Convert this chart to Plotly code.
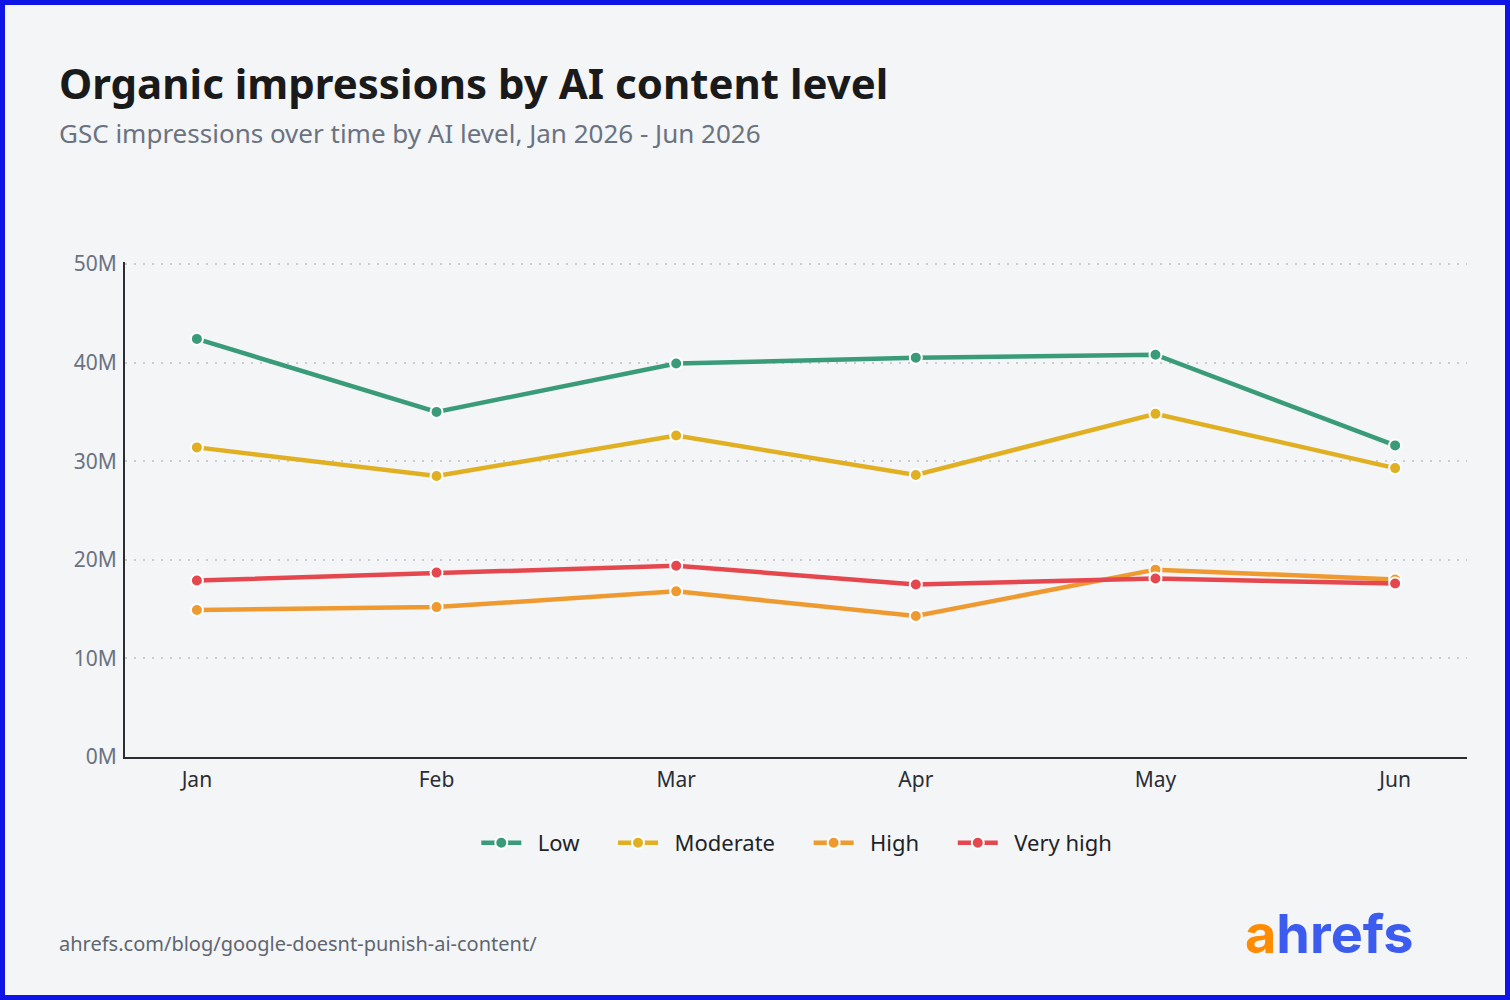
import plotly.graph_objects as go

months = ["Jan", "Feb", "Mar", "Apr", "May", "Jun"]
low = [42.4, 35.0, 39.9, 40.5, 40.8, 31.6]
moderate = [31.4, 28.5, 32.6, 28.6, 34.8, 29.3]
high = [14.9, 15.2, 16.8, 14.3, 19.0, 18.0]
very_high = [17.9, 18.7, 19.4, 17.5, 18.1, 17.6]
y_ticks = [0, 10, 20, 30, 40, 50]
y_tick_labels = ["0M", "10M", "20M", "30M", "40M", "50M"]

series = [
    ("Low", low, "#3a9b78"),
    ("Moderate", moderate, "#e0af22"),
    ("High", high, "#ee9a30"),
    ("Very high", very_high, "#e5474f"),
]

W, H = 1510, 1000
L, R, T, B = 125, 43, 262, 243
pw, ph = W - L - R, H - T - B

def px(x):
    return (x - L) / pw

def py(y):
    return (H - B - y) / ph

lead = "\u00a0" * 2
pad = "\u00a0" * 5

fig = go.Figure()
for name, vals, col in series:
    fig.add_trace(go.Scatter(
        x=months, y=vals, name=lead + name + pad, mode="lines+markers",
        line=dict(color=col, width=4.5),
        marker=dict(size=12, color=col, line=dict(color="white", width=2)),
    ))

bg = "#f3f5f7"
font_main = "Noto Sans, sans-serif"

fig.update_layout(
    width=W, height=H,
    margin=dict(l=L, r=R, t=T, b=B),
    paper_bgcolor=bg, plot_bgcolor=bg,
    font=dict(family=font_main, color="#6b7280"),
    showlegend=True,
    legend=dict(orientation="h", x=px(483) - 0.005, xanchor="left", y=py(843), yanchor="middle",
                font=dict(size=22, color="#1f2328"), itemwidth=40,
                bgcolor="rgba(0,0,0,0)", tracegroupgap=0),
    xaxis=dict(range=[-0.3, 5.3], showgrid=False, showline=True, linecolor="#2b2d33",
               linewidth=2, ticks="outside", ticklen=3, tickcolor="rgba(0,0,0,0)",
               tickfont=dict(size=21, color="#2b2d33"),
               fixedrange=True, zeroline=False),
    yaxis=dict(range=[0, 50.2], tickvals=y_ticks, ticktext=y_tick_labels, showgrid=True,
               gridcolor="#c9cdd2", griddash="2px,7px", gridwidth=2,
               showline=True, linecolor="#2b2d33", linewidth=2, ticks="outside",
               ticklen=2, tickcolor="rgba(0,0,0,0)",
               tickfont=dict(size=21, color="#6b7280"), zeroline=False),
    annotations=[
        dict(text="<b>Organic impressions by AI content level</b>", xref="paper", yref="paper",
             x=px(57), y=py(82), xanchor="left", yanchor="middle", showarrow=False,
             font=dict(size=42, color="#1a1a1a", family=font_main)),
        dict(text="GSC impressions over time by AI level, Jan 2026 - Jun 2026", xref="paper", yref="paper",
             x=px(57), y=py(133), xanchor="left", yanchor="middle", showarrow=False,
             font=dict(size=26, color="#6b7280", family=font_main)),
        dict(text="ahrefs.com/blog/google-doesnt-punish-ai-content/", xref="paper", yref="paper",
             x=px(57), y=py(943), xanchor="left", yanchor="middle", showarrow=False,
             font=dict(size=20, color="#5f6670", family=font_main)),
        dict(text="<b><span style='color:#ff8c00'>a</span>hrefs</b>", xref="paper", yref="paper",
             x=px(1416), y=py(933), xanchor="right", yanchor="middle", showarrow=False,
             font=dict(size=54, color="#3c5cf0", family="Inter, sans-serif")),
    ],
    shapes=[
        dict(type="rect", xref="paper", yref="paper", x0=px(2.5), x1=px(W - 2.5),
             y0=py(2.5), y1=py(H - 2.5), line=dict(color="#0f14e6", width=5),
             fillcolor="rgba(0,0,0,0)", layer="above"),
    ],
)

fig.write_html("out.html")
